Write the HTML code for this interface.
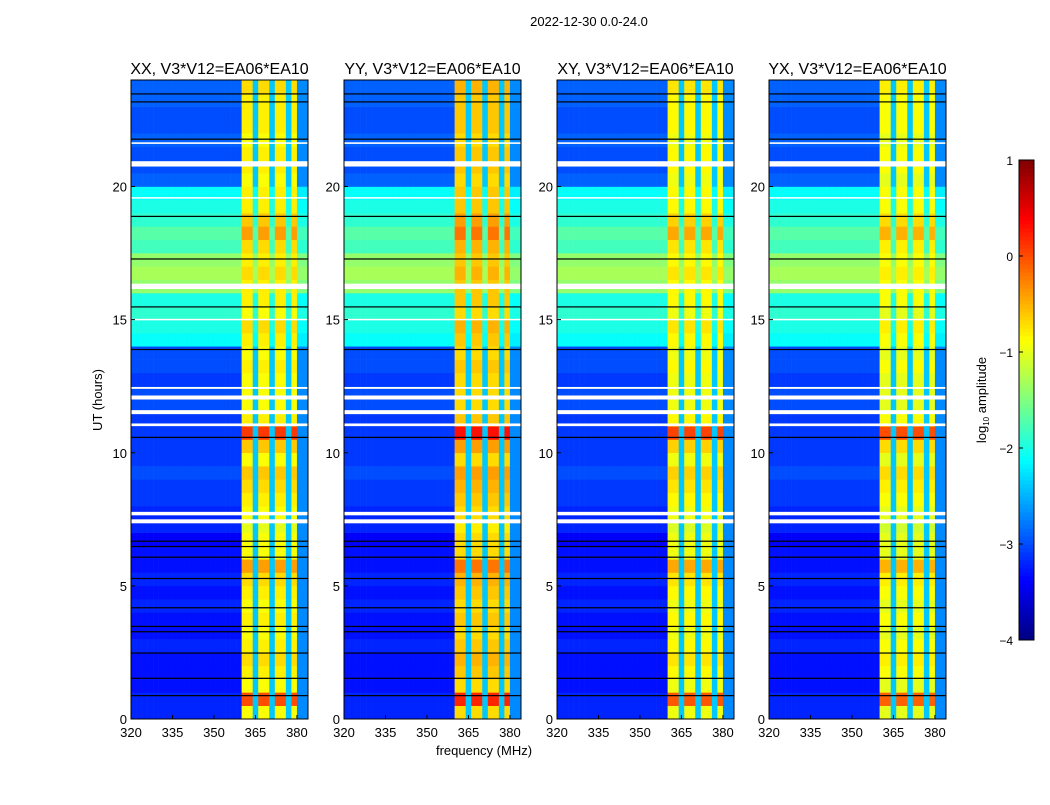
<!DOCTYPE html>
<html><head><meta charset="utf-8">
<style>
html,body{margin:0;padding:0;background:#fff;}
svg text{font-family:"Liberation Sans","DejaVu Sans",sans-serif;fill:#000;}
</style></head>
<body>
<svg id="chart" width="1050" height="800" viewBox="0 0 1050 800" xmlns="http://www.w3.org/2000/svg">
<rect width="1050" height="800" fill="#fff"/>
<text x="589" y="26" font-size="13" text-anchor="middle">2022-12-30 0.0-24.0</text>
<text x="484" y="755" font-size="13" text-anchor="middle">frequency (MHz)</text>
<text transform="translate(102,400) rotate(-90)" font-size="13" text-anchor="middle">UT (hours)</text>
<g id="panels"></g>
<g id="cbar"></g>
</svg>
<script>
// ---- data ----
const panelTitles = ["XX, V3*V12=EA06*EA10","YY, V3*V12=EA06*EA10","XY, V3*V12=EA06*EA10","YX, V3*V12=EA06*EA10"];
// background log10 amplitude per half-hour (0..24h)
const bgLevel = [-3.2,-3.2,
 -3.3,-3.3,-3.3,-3.2,-3.3,-3.3,-3.2,-3.3,-3.2,-3.3,-3.3,-3.4,
 -3.2,-3.2,
 -3.1,-3.1,-3.0,-3.1,-3.1,-3.1,-3.1,-3.0,-3.0,-3.1,-3.0,-3.0,
 -2.1,-2.0,-1.9,-2.0,
 -1.4,-1.3,-1.4,
 -1.8,-1.7,-1.9,-2.0,-2.1,
 -2.9,-3.0,-3.0,-2.9,-3.0,-3.0,-2.9,-2.9];
// RFI band level per half-hour
const bandLevel = [-0.9,0.0,-0.9,-0.8,-0.7,-0.8,-0.9,-0.8,-0.9,-0.8,-0.7,-0.4,-0.9,-0.9,
 -1.0,-0.9,-0.8,-0.7,-0.6,-0.9,-0.6,0.1,-0.8,-0.9,-0.9,-0.9,-0.8,-0.9,
 -0.8,-0.7,-0.9,-0.8,-0.8,-0.7,-0.8,-0.7,-0.4,-0.6,-0.8,-0.8,
 -0.9,-0.8,-0.8,-0.9,-0.8,-0.8,-0.8,-0.7];
const panelBandShift = [0.0, 0.2, -0.05, -0.1];
// channel class per 2 MHz from 320 to 384: 0 background, 1 band, 2 gap, 3 edge
const chanClass = [0,0,0,0,0,0,0,0,0,0,0,0,0,0,0,0,0,0,0,0,1,1,2,1,1,2,1,1,2,1,3,3];
const gapLevel = -2.4, edgeLevel = -2.7;
const flagged = [[7.35,7.5],[7.65,7.78],[11.0,11.1],[11.45,11.6],[12.0,12.15],[12.4,12.47],[16.15,16.35],[20.75,20.95],[21.6,21.66],[19.55,19.6],[15.0,15.03]];
const darkLines = [0.9,1.55,2.5,3.3,3.5,4.2,5.3,6.1,6.5,6.7,10.6,13.9,15.5,17.3,18.9,21.8,23.2,23.5];
const xTicks = [320,335,350,365,380];
const yTicks = [0,5,10,15,20];
const cbTicks = [1,0,-1,-2,-3,-4];
// ---- layout ----
const panelX = [131,344,557,769], panelW = 177, plotTop = 80, plotBottom = 719;
const fMin = 320, fMax = 384, tMin = 0, tMax = 24, vMin = -4, vMax = 1;
const yScale = h => plotBottom - (h - tMin) / (tMax - tMin) * (plotBottom - plotTop);
function jet(v){
  let t = Math.max(0, Math.min(1, (v - vMin) / (vMax - vMin)));
  const c = x => Math.round(255 * Math.max(0, Math.min(1, 1.5 - Math.abs(4 * t - x))));
  return `rgb(${c(3)},${c(2)},${c(1)})`;
}
const NS = "http://www.w3.org/2000/svg";
function el(tag, attrs, parent){ const e = document.createElementNS(NS, tag); for (const k in attrs) e.setAttribute(k, attrs[k]); parent.appendChild(e); return e; }
const panels = document.getElementById('panels');
panelTitles.forEach((title, p) => {
  const x0 = panelX[p];
  const xScale = f => x0 + (f - fMin) / (fMax - fMin) * panelW;
  const g = el('g', {}, panels);
  
  
  const nT = bgLevel.length, dT = (tMax - tMin) / nT, nF = chanClass.length, dF = (fMax - fMin) / nF;
  for (let r = 0; r < nT; r++) {
    for (let c = 0; c < nF; c++) {
      const cls = chanClass[c];
      let v = cls === 0 ? bgLevel[r] : cls === 1 ? bandLevel[r] + panelBandShift[p] : cls === 2 ? Math.max(gapLevel, bgLevel[r]) : Math.max(edgeLevel, bgLevel[r] - 0.1);
      const y1 = yScale(tMin + (r + 1) * dT), y2 = yScale(tMin + r * dT);
      const x1 = xScale(fMin + c * dF), x2 = xScale(fMin + (c + 1) * dF);
      const rc = el('rect', {x: x1.toFixed(2), y: y1.toFixed(2), width: (x2 - x1 + 0.3).toFixed(2), height: (y2 - y1 + 0.3).toFixed(2), fill: jet(v)}, g);
      
      
    }
  }
  darkLines.forEach(h => {
    const l = el('rect', {x: x0, y: yScale(h), width: panelW, height: 1.2, fill: '#000'}, g);
    
    
  });
  flagged.forEach(([a, b]) => {
    const f = el('rect', {x: x0, y: yScale(b), width: panelW, height: Math.max(1.5, yScale(a) - yScale(b)), fill: '#fff'}, g);
    
    
  });
  const fr = el('rect', {x: x0, y: plotTop, width: panelW, height: plotBottom - plotTop, fill: 'none', stroke: '#000', 'stroke-width': 1}, g);
  
  
  const tt = el('text', {x: x0 + panelW / 2, y: 74, 'font-size': 16, 'text-anchor': 'middle'}, g);
  tt.textContent = title;
  
  
  xTicks.forEach(f => {
    const t = el('text', {x: xScale(f), y: 737, 'font-size': 13, 'text-anchor': 'middle'}, g);
    t.textContent = f;
    
    
    el('line', {x1: xScale(f), x2: xScale(f), y1: plotBottom, y2: plotBottom - 4, stroke: '#000'}, g);
  });
  yTicks.forEach(h => {
    const t = el('text', {x: x0 - 4, y: yScale(h) + 5, 'font-size': 13, 'text-anchor': 'end'}, g);
    t.textContent = h;
    
    
    el('line', {x1: x0, x2: x0 + 4, y1: yScale(h), y2: yScale(h), stroke: '#000'}, g);
  });
});
// colorbar
const cb = document.getElementById('cbar');
const cbX = 1019, cbW = 15, cbTop = 160, cbBot = 640;
const cbY = v => cbBot - (v - vMin) / (vMax - vMin) * (cbBot - cbTop);
for (let i = 0; i < 120; i++) {
  const v = vMin + (i + 0.5) * (vMax - vMin) / 120;
  el('rect', {x: cbX, y: cbY(vMin + (i + 1) * (vMax - vMin) / 120), width: cbW, height: (cbBot - cbTop) / 120 + 0.4, fill: jet(v)}, cb);
}
const cbf = el('rect', {x: cbX, y: cbTop, width: cbW, height: cbBot - cbTop, fill: 'none', stroke: '#000'}, cb);


cbTicks.forEach(v => {
  const t = el('text', {x: 1013, y: cbY(v) + 5, 'font-size': 12, 'text-anchor': 'end'}, cb);
  t.textContent = v < 0 ? '\u2212' + (-v) : String(v);
  
  
  el('line', {x1: cbX, x2: cbX + 4, y1: cbY(v), y2: cbY(v), stroke: '#000'}, cb);
});
const cl = el('text', {transform: 'translate(986,400) rotate(-90)', 'font-size': 13, 'text-anchor': 'middle'}, cb);
cl.innerHTML = 'log<tspan font-size="8" dy="3">10</tspan><tspan dy="-3"> amplitude</tspan>';


</script>
</body></html>
